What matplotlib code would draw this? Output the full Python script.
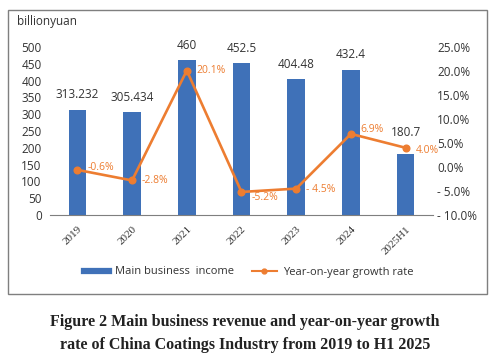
import matplotlib.pyplot as plt
from matplotlib.patches import Rectangle
from matplotlib.lines import Line2D

# data
years = ["2019", "2020", "2021", "2022", "2023", "2024", "2025H1"]
income = [313.232, 305.434, 460, 452.5, 404.48, 432.4, 180.7]          # billion yuan
income_labels = ["313.232", "305.434", "460", "452.5", "404.48", "432.4", "180.7"]
growth = [-0.6, -2.8, 20.1, -5.2, -4.5, 6.9, 4.0]                      # %
growth_labels = ["-0.6%", "-2.8%", "20.1%", "-5.2%", "- 4.5%", "6.9%", "4.0%"]
left_ticks = [0, 50, 100, 150, 200, 250, 300, 350, 400, 450, 500]
right_ticks = [-10, -5, 0, 5, 10, 15, 20, 25]
right_tick_labels = ["- 10.0%", "- 5.0%", "0.0%", "5.0%", "10.0%", "15.0%", "20.0%", "25.0%"]

blue = "#3F71B8"
orange = "#ED7D31"
W, H = 503, 361

fig = plt.figure(figsize=(W / 100, H / 100), dpi=100)
ax1 = fig.add_axes([50 / W, 1 - 215 / H, 383 / W, 168 / H])
ax2 = ax1.twinx()

x = list(range(len(years)))
ax1.bar(x, income, width=0.32, color=blue, zorder=2)
ax1.set_xlim(-0.5, len(years) - 0.5)
ax1.set_ylim(0, 500)
ax1.set_yticks(left_ticks)
ax1.set_xticks(x)
ax1.set_xticklabels(years, rotation=45, ha="right", rotation_mode="anchor",
                    family="Liberation Serif", fontsize=8, color="#333333")
for t in ax1.get_yticklabels():
    t.set_family("Open Sans")
    t.set_fontsize(8.5)
    t.set_color("#333333")
ax1.tick_params(axis="y", length=0, pad=6)
ax1.tick_params(axis="x", length=0, pad=7)

for i, (v, s) in enumerate(zip(income, income_labels)):
    dy = 6 if i < len(years) - 1 else 11
    ax1.annotate(s, (i, v), xytext=(0, dy), textcoords="offset points",
                 ha="center", va="bottom", fontsize=8.5, family="Open Sans", color="#333333")

ax2.plot(x, growth, color=orange, lw=1.9, marker="o", markersize=4.8, zorder=3)
ax2.set_ylim(-10, 25)
ax2.set_yticks(right_ticks)
ax2.set_yticklabels(right_tick_labels, family="Open Sans", fontsize=8.5, color="#333333")
ax2.tick_params(axis="y", length=0, pad=3)

# small vertical nudges so labels clear the line, as in the original
nudge = [2, 0, 0, -4, -1, 3, -2]
for i, (v, s) in enumerate(zip(growth, growth_labels)):
    ax2.annotate(s, (i, v), xytext=(7, nudge[i]), textcoords="offset points",
                 ha="left", va="center", fontsize=7.5, family="Open Sans", color=orange)

for ax in (ax1, ax2):
    for side in ("top", "left", "right"):
        ax.spines[side].set_visible(False)
ax1.spines["bottom"].set_color("#7f7f7f")
ax2.spines["bottom"].set_visible(False)

fig.text(17 / W, 1 - 21 / H, "billionyuan", fontsize=8.5, family="Open Sans",
         color="#333333", va="center")

handles = [Line2D([], [], color=blue, lw=4.5),
           Line2D([], [], color=orange, lw=1.5, marker="o", markersize=3.5)]
fig.legend(handles, ["Main business  income", "Year-on-year growth rate"],
           loc="center", bbox_to_anchor=(249 / W, 1 - 272 / H), ncol=2, frameon=False,
           prop={"family": "Open Sans", "size": 8}, handlelength=2.2, handletextpad=0.6,
           columnspacing=1.6, labelcolor="#333333")

fig.patches.append(Rectangle((8 / W, 1 - 294 / H), 479 / W, 284 / H, transform=fig.transFigure,
                             fill=False, edgecolor="#7f7f7f", lw=1))

fig.text(245 / W, 1 - 322 / H, "Figure 2 Main business revenue and year-on-year growth",
         ha="center", va="center", family="Liberation Serif", weight="bold", fontsize=11.5,
         color="#222222")
fig.text(245 / W, 1 - 345 / H, "rate of China Coatings Industry from 2019 to H1 2025",
         ha="center", va="center", family="Liberation Serif", weight="bold", fontsize=11.5,
         color="#222222")

fig.savefig("out.png", dpi=100)
